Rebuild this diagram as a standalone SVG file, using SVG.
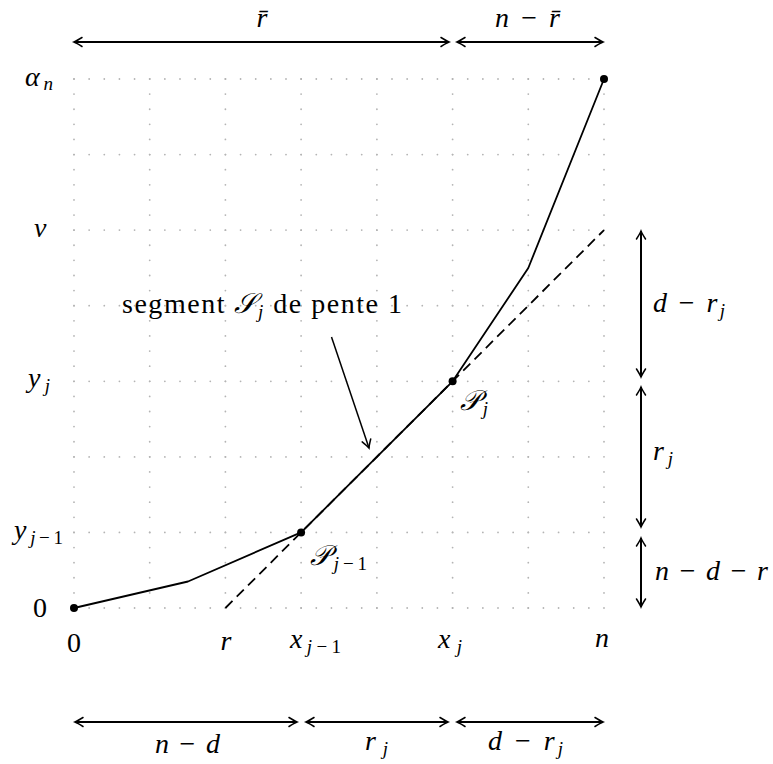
<svg xmlns="http://www.w3.org/2000/svg" width="773" height="764" viewBox="0 0 773 764" font-family="'Liberation Serif', 'DejaVu Serif', serif">
<style>
.grid line{stroke:#b4b4b4;stroke-width:1.8;stroke-linecap:round}
.gv{stroke-dasharray:0 15.114}
.gh{stroke-dasharray:0 15.143}
.curve{fill:none;stroke:#000;stroke-width:1.8;stroke-linejoin:round}
.dash{fill:none;stroke:#000;stroke-width:1.8;stroke-dasharray:10 6}
.dim{stroke:#000;stroke-width:2;marker-start:url(#ah);marker-end:url(#ah)}
.ptr{stroke:#000;stroke-width:1.5;marker-end:url(#ah)}
text{font-family:'Liberation Serif', 'DejaVu Serif', serif;font-size:28px;fill:#000}
.m{font-style:italic}
.s{font-size:19px}
.u{font-style:normal}
</style>
<defs>
<marker id="ah" markerUnits="userSpaceOnUse" markerWidth="20" markerHeight="20" refX="0" refY="0" viewBox="-10 -10 20 20" orient="auto-start-reverse" overflow="visible">
<path d="M-8,-4.5 Q-2.5,-1 0,0 Q-2.5,1 -8,4.5" fill="none" stroke="#000" stroke-width="1.5" stroke-linecap="round"/>
</marker>
</defs>
<g id="grid" class="grid">
<line class="gv" x1="74" y1="79" x2="74" y2="608"/>
<line class="gv" x1="149.7" y1="79" x2="149.7" y2="608"/>
<line class="gv" x1="225.4" y1="79" x2="225.4" y2="608"/>
<line class="gv" x1="301.1" y1="79" x2="301.1" y2="608"/>
<line class="gv" x1="376.9" y1="79" x2="376.9" y2="608"/>
<line class="gv" x1="452.6" y1="79" x2="452.6" y2="608"/>
<line class="gv" x1="528.3" y1="79" x2="528.3" y2="608"/>
<line class="gv" x1="604" y1="79" x2="604" y2="608"/>
<line class="gh" x1="74" y1="79" x2="604" y2="79"/>
<line class="gh" x1="74" y1="154.6" x2="604" y2="154.6"/>
<line class="gh" x1="74" y1="230.1" x2="604" y2="230.1"/>
<line class="gh" x1="74" y1="305.7" x2="604" y2="305.7"/>
<line class="gh" x1="74" y1="381.3" x2="604" y2="381.3"/>
<line class="gh" x1="74" y1="456.9" x2="604" y2="456.9"/>
<line class="gh" x1="74" y1="532.4" x2="604" y2="532.4"/>
<line class="gh" x1="74" y1="608" x2="604" y2="608"/>
</g>
<g id="connectors">
<polyline id="curve" class="curve" points="74,608 188,581.5 301.1,532.4 452.6,381.3 528.3,268 604,79"/>
<line id="tangent" class="dash" x1="225.4" y1="608" x2="604" y2="230.1"/>
<line id="pointer" class="ptr" x1="331.5" y1="337" x2="369" y2="448"/>
<line class="dim" x1="74" y1="42" x2="449" y2="42"/>
<line class="dim" x1="457" y1="42" x2="603" y2="42"/>
<line class="dim" x1="641" y1="231" x2="641" y2="377"/>
<line class="dim" x1="641" y1="387" x2="641" y2="527"/>
<line class="dim" x1="641" y1="538" x2="641" y2="607"/>
<line class="dim" x1="75" y1="722" x2="297" y2="722"/>
<line class="dim" x1="306" y1="722" x2="448" y2="722"/>
<line class="dim" x1="457" y1="722" x2="603" y2="722"/>
</g>
<g id="points">
<circle cx="74" cy="608" r="4"/>
<circle cx="301.1" cy="532.4" r="4"/>
<circle cx="452.6" cy="381.3" r="4"/>
<circle cx="604" cy="79" r="4"/>
</g>
<g id="labels-left">
<text x="25" y="86" class="m" textLength="28" lengthAdjust="spacing">α<tspan class="s" dy="4">n</tspan></text>
<text x="34" y="237" class="m">v</text>
<text x="28" y="387" class="m" textLength="22" lengthAdjust="spacing">y<tspan class="s" dy="5">j</tspan></text>
<text x="14" y="539" class="m" textLength="49" lengthAdjust="spacing">y<tspan class="s" dy="5">j</tspan><tspan class="s u">−1</tspan></text>
<text x="33" y="617">0</text>
</g>
<g id="labels-axis">
<text x="74" y="652" text-anchor="middle">0</text>
<text x="226" y="650" text-anchor="middle" class="m">r</text>
<text x="290" y="648" class="m" textLength="51" lengthAdjust="spacing">x<tspan class="s" dy="5">j</tspan><tspan class="s u">−1</tspan></text>
<text x="438" y="648" class="m" textLength="24" lengthAdjust="spacing">x<tspan class="s" dy="5">j</tspan></text>
<text x="602" y="647" text-anchor="middle" class="m">n</text>
</g>
<g id="labels-points">
<text x="460" y="410" class="m" textLength="28" lengthAdjust="spacing">𝒫<tspan class="s" dy="5">j</tspan></text>
<text x="310" y="565" class="m" textLength="57" lengthAdjust="spacing">𝒫<tspan class="s" dy="5">j</tspan><tspan class="s u">−1</tspan></text>
</g>
<g id="label-segment">
<text x="122" y="313" textLength="280" lengthAdjust="spacing">segment <tspan class="m">𝒮<tspan class="s" dy="5">j</tspan></tspan><tspan dy="-5"> de pente 1</tspan></text>
</g>
<g id="labels-top">
<text x="262" y="27" text-anchor="middle" class="m">r̄</text>
<text x="495" y="27" class="m" textLength="65" lengthAdjust="spacing">n <tspan class="u">−</tspan> r̄</text>
</g>
<g id="labels-right">
<text x="653" y="312" class="m" textLength="72" lengthAdjust="spacing">d <tspan class="u">−</tspan> r<tspan class="s" dy="5">j</tspan></text>
<text x="653" y="460" class="m" textLength="20" lengthAdjust="spacing">r<tspan class="s" dy="5">j</tspan></text>
<text x="655" y="580" class="m" textLength="113" lengthAdjust="spacing">n <tspan class="u">−</tspan> d <tspan class="u">−</tspan> r</text>
</g>
<g id="labels-bottom">
<text x="155" y="753" class="m" textLength="65" lengthAdjust="spacing">n <tspan class="u">−</tspan> d</text>
<text x="365" y="750" class="m" textLength="23" lengthAdjust="spacing">r<tspan class="s" dy="5">j</tspan></text>
<text x="488" y="750" class="m" textLength="75" lengthAdjust="spacing">d <tspan class="u">−</tspan> r<tspan class="s" dy="5">j</tspan></text>
</g>
</svg>
